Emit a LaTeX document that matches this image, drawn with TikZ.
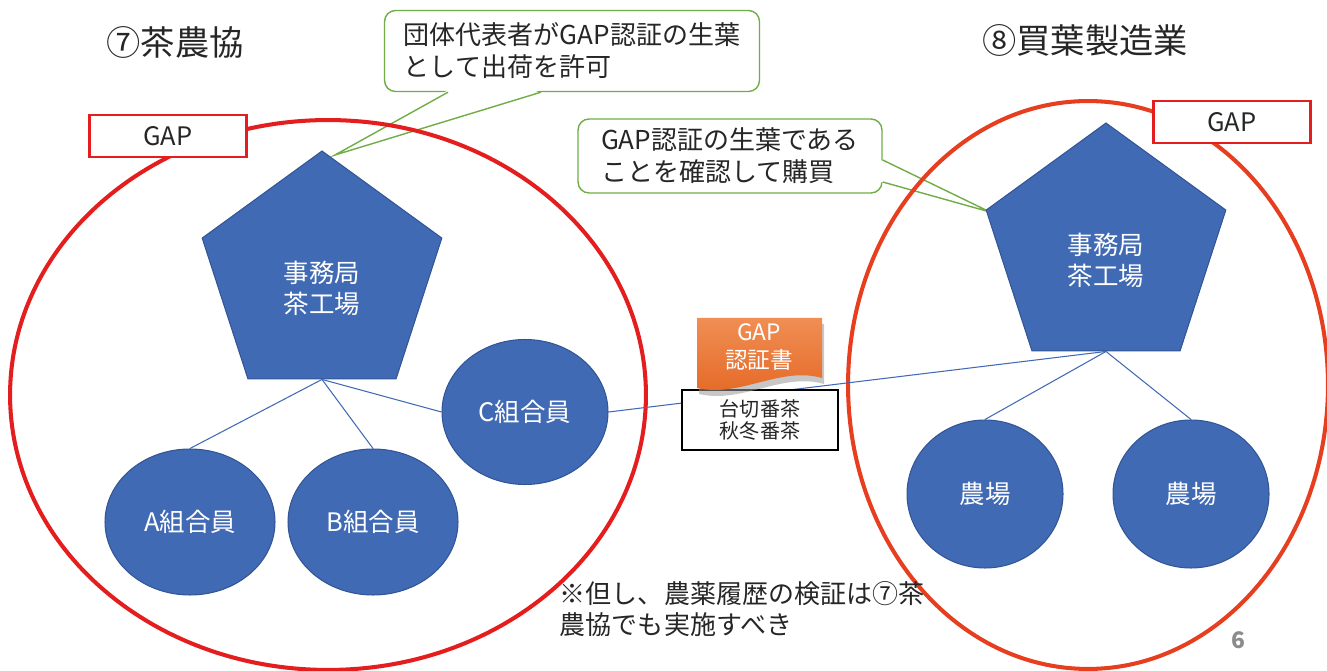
\documentclass[tikz,border=0pt]{standalone}
\usepackage{fontspec}
\setmainfont{Noto Sans CJK JP}
\usepackage{xcolor}
\usepackage{tikz}
\usetikzlibrary{shapes.geometric, positioning, calc}

\definecolor{unitblue}{RGB}{65,106,180}
\definecolor{unitedge}{RGB}{50,85,150}
\definecolor{ringred}{RGB}{228,30,30}
\definecolor{ringorange}{RGB}{230,62,30}
\definecolor{calloutgreen}{RGB}{112,173,71}
\definecolor{certorange}{RGB}{228,104,36}
\definecolor{certlight}{RGB}{240,142,84}
\definecolor{textdark}{RGB}{38,38,38}

\begin{document}
\begin{tikzpicture}[x=0.02cm, y=-0.02cm,
    office/.style={regular polygon, regular polygon sides=5, fill=unitblue, draw=unitedge, line width=0.6pt, minimum size=5.04cm, inner sep=0pt},
    member/.style={ellipse, fill=unitblue, draw=unitedge, line width=0.6pt, inner sep=0pt, text=white, font=\fontsize{14.5}{17}\selectfont},
    whitetext/.style={text=white, align=center, font=\fontsize{14.5}{17.5}\selectfont},
    gapbox/.style={rectangle, draw=ringred, line width=1.2pt, fill=white, minimum width=3.14cm, minimum height=0.84cm, text=textdark, font=\fontsize{14.5}{17}\selectfont},
    callout/.style={rectangle, rounded corners=0.22cm, draw=calloutgreen, line width=0.8pt, fill=white, align=left, text=textdark, font=\fontsize{14.8}{18.2}\selectfont},
    pointer/.style={draw=calloutgreen, line width=0.8pt},
    ring/.style={line width=2.3pt},
    link/.style={draw=unitblue, line width=0.6pt},
    title/.style={text=textdark, font=\fontsize{19.5}{22}\selectfont},
]

% Frame
\useasboundingbox (0,0) rectangle (1327,671);

% Callouts
\node[callout, minimum width=7.5cm, minimum height=1.62cm] (msgL) at (572,51) {団体代表者がGAP認証の生葉\\として出荷を許可};
\coordinate (tipL) at (335,155);
\fill[white] ($(msgL.south)+(-124,-2)$) -- (tipL) -- ($(msgL.south)+(-31,-2)$) -- cycle;
\draw[pointer] ($(msgL.south)+(-124,0)$) -- (tipL) -- ($(msgL.south)+(-31,0)$);

\node[callout, minimum width=6.08cm, minimum height=1.48cm] (msgR) at (730,156) {GAP認証の生葉である\\ことを確認して購買};
\coordinate (tipR) at (990,212);
\fill[white] ($(msgR.east)+(-2,4)$) -- (tipR) -- ($(msgR.east)+(-2,26)$) -- cycle;
\draw[pointer] ($(msgR.east)+(0,4)$) -- (tipR) -- ($(msgR.east)+(0,26)$);

% Groups
\draw[ringred, ring] (328,395) ellipse [x radius=6.36cm, y radius=5.5cm];
\draw[ringorange, ring] (1088,385) ellipse [x radius=4.8cm, y radius=5.68cm];

\node[gapbox] (gapL) at (168,136) {GAP};
\node[gapbox] (gapR) at (1232,122) {GAP};

\node[title] (orgL) at (175,42) {⑦茶農協};
\node[title] (orgR) at (1085,40) {⑧買葉製造業};

% Offices
\node[office] (offL) at (322,277) {};
\node[whitetext] (offLname) at (322,288) {事務局\\茶工場};
\node[office] (offR) at (1106,249) {};
\node[whitetext] (offRname) at (1106,260) {事務局\\茶工場};

% Members and farms
\node[member, minimum width=3.4cm, minimum height=2.92cm] (memA) at (190,522) {A組合員};
\node[member, minimum width=3.4cm, minimum height=2.92cm] (memB) at (373,522) {B組合員};
\node[member, minimum width=3.32cm, minimum height=2.9cm] (memC) at (525,412) {C組合員};
\node[member, minimum width=3.12cm, minimum height=2.96cm] (farmA) at (985,494) {農場};
\node[member, minimum width=3.12cm, minimum height=2.96cm] (farmB) at (1191,494) {農場};

% Links
\draw[link] (offL.side 3) -- (memA.north);
\draw[link] (offL.side 3) -- (memB.north);
\draw[link] (offL.side 3) -- (memC.west);
\draw[link] (offR.side 3) -- (farmA.north);
\draw[link] (offR.side 3) -- (farmB.north);
\draw[link] (offR.side 3) -- (memC.east);

% Certificate
\node[draw=black, line width=1.2pt, fill=white, minimum width=3.12cm, minimum height=1.2cm, align=center, text=textdark, font=\fontsize{11.4}{12.6}\selectfont] (teaList) at (760,420) {台切番茶\\秋冬番茶};
\fill[black!40, opacity=0.55, shift={(2,6)}] (697,318) -- (822,318) -- (822,378) .. controls (780,366) and (740,398) .. (697,388) -- cycle;
\shade[top color=certlight, bottom color=certorange] (697,318) -- (822,318) -- (822,378) .. controls (780,366) and (740,398) .. (697,388) -- cycle;
\node[whitetext, font=\fontsize{12.9}{16}\selectfont] (certText) at (759,347) {GAP\\認証書};

% Notes
\node[align=left, text=textdark, font=\fontsize{14.8}{18}\selectfont] (remark) at (742,609) {※但し、農薬履歴の検証は⑦茶\\農協でも実施すべき};
\node[text=black!45, font=\bfseries\fontsize{13}{15}\selectfont] (pageNo) at (1238,640) {6};

\end{tikzpicture}
\end{document}
